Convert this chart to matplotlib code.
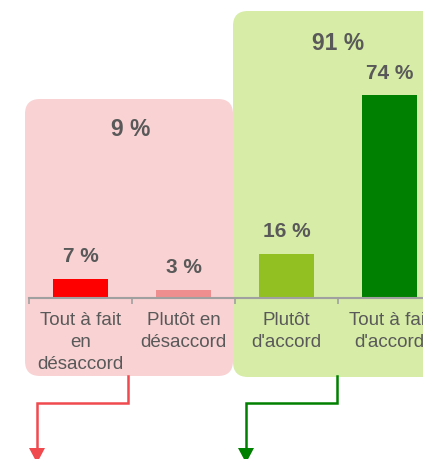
import matplotlib

matplotlib.use("Agg")
import matplotlib.pyplot as plt  # noqa: E402
from matplotlib.patches import FancyBboxPatch, Polygon  # noqa: E402

plt.rcParams["font.family"] = ["Liberation Sans", "DejaVu Sans"]

categories = ["Tout à fait\nen\ndésaccord", "Plutôt en\ndésaccord", "Plutôt\nd'accord", "Tout à fait\nd'accord"]
values = [7, 3, 16, 74]
bar_colors = ["#FF0000", "#EE8E8E", "#92C022", "#008000"]
group_labels = ["9 %", "91 %"]

TEXT = "#595959"
W, H = 423, 459

fig = plt.figure(figsize=(W / 100, H / 100), dpi=100)

# overlay in pixel units: group boxes, totals, arrows
ov = fig.add_axes([0, 0, 1, 1], zorder=0)
ov.set_xlim(0, W)
ov.set_ylim(H, 0)
ov.axis("off")

r = 15
ov.add_patch(FancyBboxPatch((25 + r, 99 + r), 208 - 2 * r, 277 - 2 * r,
                            boxstyle=f"round,pad={r}", fc="#F9D2D3", ec="none"))
ov.add_patch(FancyBboxPatch((233 + r, 11 + r), 230 - 2 * r, 366 - 2 * r,
                            boxstyle=f"round,pad={r}", fc="#D6ECA7", ec="none"))

ov.text(131, 130, group_labels[0], ha="center", va="center", fontsize=16.5,
        fontweight="bold", color=TEXT)
ov.text(338, 43, group_labels[1], ha="center", va="center", fontsize=16.5,
        fontweight="bold", color=TEXT)

for x0, x1, col in [(128, 37, "#F04A4F"), (337, 246, "#008000")]:
    ov.plot([x0, x0, x1, x1], [376, 403, 403, 449], color=col, lw=1.8,
            solid_joinstyle="miter")
    ov.add_patch(Polygon([(x1 - 8, 448), (x1 + 8, 448), (x1, 463)], closed=True,
                         fc=col, ec="none"))

# bar axes
cat_w = 103
ax = fig.add_axes([29 / W, (H - 298) / H, (W - 29) / W, 80 * 2.74 / H], zorder=1)
ax.patch.set_alpha(0)
x = list(range(len(values)))
ax.bar(x, values, width=0.54, color=bar_colors)
for xi, v in zip(x, values):
    ax.annotate(f"{v} %", (xi, v), xytext=(0, 16), textcoords="offset points",
                ha="center", va="center", fontsize=15, fontweight="bold", color=TEXT)

for s in ["top", "right", "left"]:
    ax.spines[s].set_visible(False)
ax.spines["bottom"].set_color("#A0A0A0")
ax.spines["bottom"].set_linewidth(1.5)
ax.set_yticks([])
ax.set_xticks([i - 0.5 for i in range(len(values) + 1)])
ax.set_xticklabels([])
ax.tick_params(axis="x", which="major", length=4, width=1.2, color="#A0A0A0")
ax.set_xticks(x, minor=True)
ax.set_xticklabels(categories, minor=True, fontsize=13.5, color=TEXT,
                   linespacing=1.38)
ax.tick_params(axis="x", which="minor", length=0, pad=10)
ax.set_xlim(-0.5, -0.5 + (W - 29) / cat_w)
ax.set_ylim(0, 80)

fig.savefig("out.png", dpi=100)
